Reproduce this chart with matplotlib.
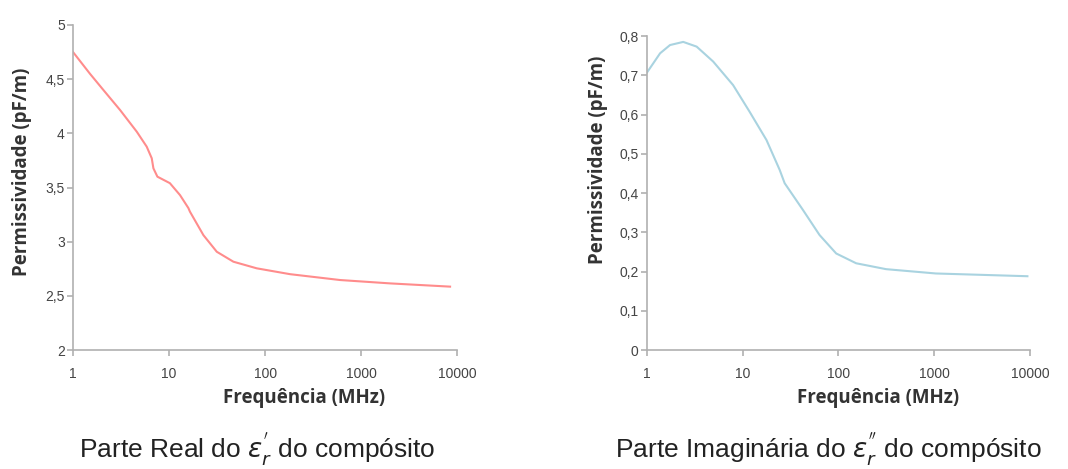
import matplotlib
matplotlib.use("Agg")
import matplotlib.pyplot as plt
from matplotlib.ticker import FixedLocator, FuncFormatter, NullLocator

# Parte real (pF/m) vs frequencia (MHz)
freq_real = [1, 1.5, 2.07, 3.09, 4.61, 5.85, 6.6, 6.87, 7.56, 10.2, 13.0,
             15.9, 16.5, 22.8, 31.4, 46.8, 81.9, 182, 604, 2000, 8450]
perm_real = [4.75, 4.55, 4.40, 4.215, 4.015, 3.877, 3.77, 3.677, 3.60, 3.54,
             3.43, 3.31, 3.277, 3.06, 2.907, 2.815, 2.754, 2.70, 2.646, 2.615,
             2.585]

# Parte imaginaria (pF/m) vs frequencia (MHz)
freq_imag = [1, 1.37, 1.74, 2.39, 3.30, 4.91, 7.93, 11.8, 17.7, 24.3, 27.4,
             42.5, 63.4, 94.6, 153, 314, 1040, 9400]
perm_imag = [0.707, 0.756, 0.777, 0.785, 0.773, 0.735, 0.675, 0.607, 0.535,
             0.459, 0.425, 0.357, 0.293, 0.246, 0.221, 0.206, 0.195, 0.188]

x_ticks = [1, 10, 100, 1000, 10000]
real_yticks = [2, 2.5, 3, 3.5, 4, 4.5, 5]
imag_yticks = [0, 0.1, 0.2, 0.3, 0.4, 0.5, 0.6, 0.7, 0.8]

captions = [r"Parte Real do $\varepsilon_r^{'}$ do compósito",
            r"Parte Imaginária do $\varepsilon_r^{''}$ do compósito"]

fig = plt.figure(figsize=(10.68, 4.69), dpi=100)
ax1 = fig.add_axes([0.0684, 0.2537, 0.3596, 0.693])
ax2 = fig.add_axes([0.6058, 0.2537, 0.3586, 0.6695])


def comma(v, pos):
    s = ("%.1f" % v).rstrip("0").rstrip(".")
    return s.replace(".", ",")


def style(ax, yticks, ylim):
    ax.set_xscale("log")
    ax.set_xlim(1, 10000)
    ax.set_ylim(*ylim)
    ax.xaxis.set_major_locator(FixedLocator(x_ticks))
    ax.xaxis.set_minor_locator(NullLocator())
    ax.xaxis.set_major_formatter(FuncFormatter(lambda v, p: "%d" % v))
    ax.yaxis.set_major_locator(FixedLocator(yticks))
    ax.yaxis.set_major_formatter(FuncFormatter(comma))
    for s in ["top", "right"]:
        ax.spines[s].set_visible(False)
    for s in ["left", "bottom"]:
        ax.spines[s].set_color("#b0b0b0")
        ax.spines[s].set_linewidth(1.2)
    ax.tick_params(axis="both", colors="#b0b0b0", labelcolor="#444444",
                   length=4, width=1.2, labelsize=10)
    ax.tick_params(axis="x", pad=8)
    ax.tick_params(axis="y", pad=2)
    for lbl in ax.get_xticklabels() + ax.get_yticklabels():
        lbl.set_fontfamily("Liberation Sans")


ax1.plot(freq_real, perm_real, color="#ff8c8c", lw=1.5)
style(ax1, real_yticks, (2, 5))
ax2.plot(freq_imag, perm_imag, color="#a9d3e0", lw=1.5)
style(ax2, imag_yticks, (0, 0.8))

lab = dict(fontfamily="Open Sans", fontweight="bold", fontsize=13.5, color="#333333")
fig.text(22 / 1068, 1 - 172 / 469, "Permissividade (pF/m)", rotation=90,
         ha="center", va="center", **lab)
fig.text(598 / 1068, 1 - 160 / 469, "Permissividade (pF/m)", rotation=90,
         ha="center", va="center", **lab)
fig.text(304 / 1068, 1 - 398 / 469, "Frequência (MHz)", ha="center", va="center", **lab)
fig.text(878 / 1068, 1 - 398 / 469, "Frequência (MHz)", ha="center", va="center", **lab)

cap = dict(fontfamily="Liberation Sans", fontsize=19, color="#222222",
           ha="center", va="center")
fig.text(257 / 1068, 1 - 449 / 469, captions[0], **cap)
fig.text(828 / 1068, 1 - 449 / 469, captions[1], **cap)

fig.savefig("out.png", dpi=100, facecolor="white")
